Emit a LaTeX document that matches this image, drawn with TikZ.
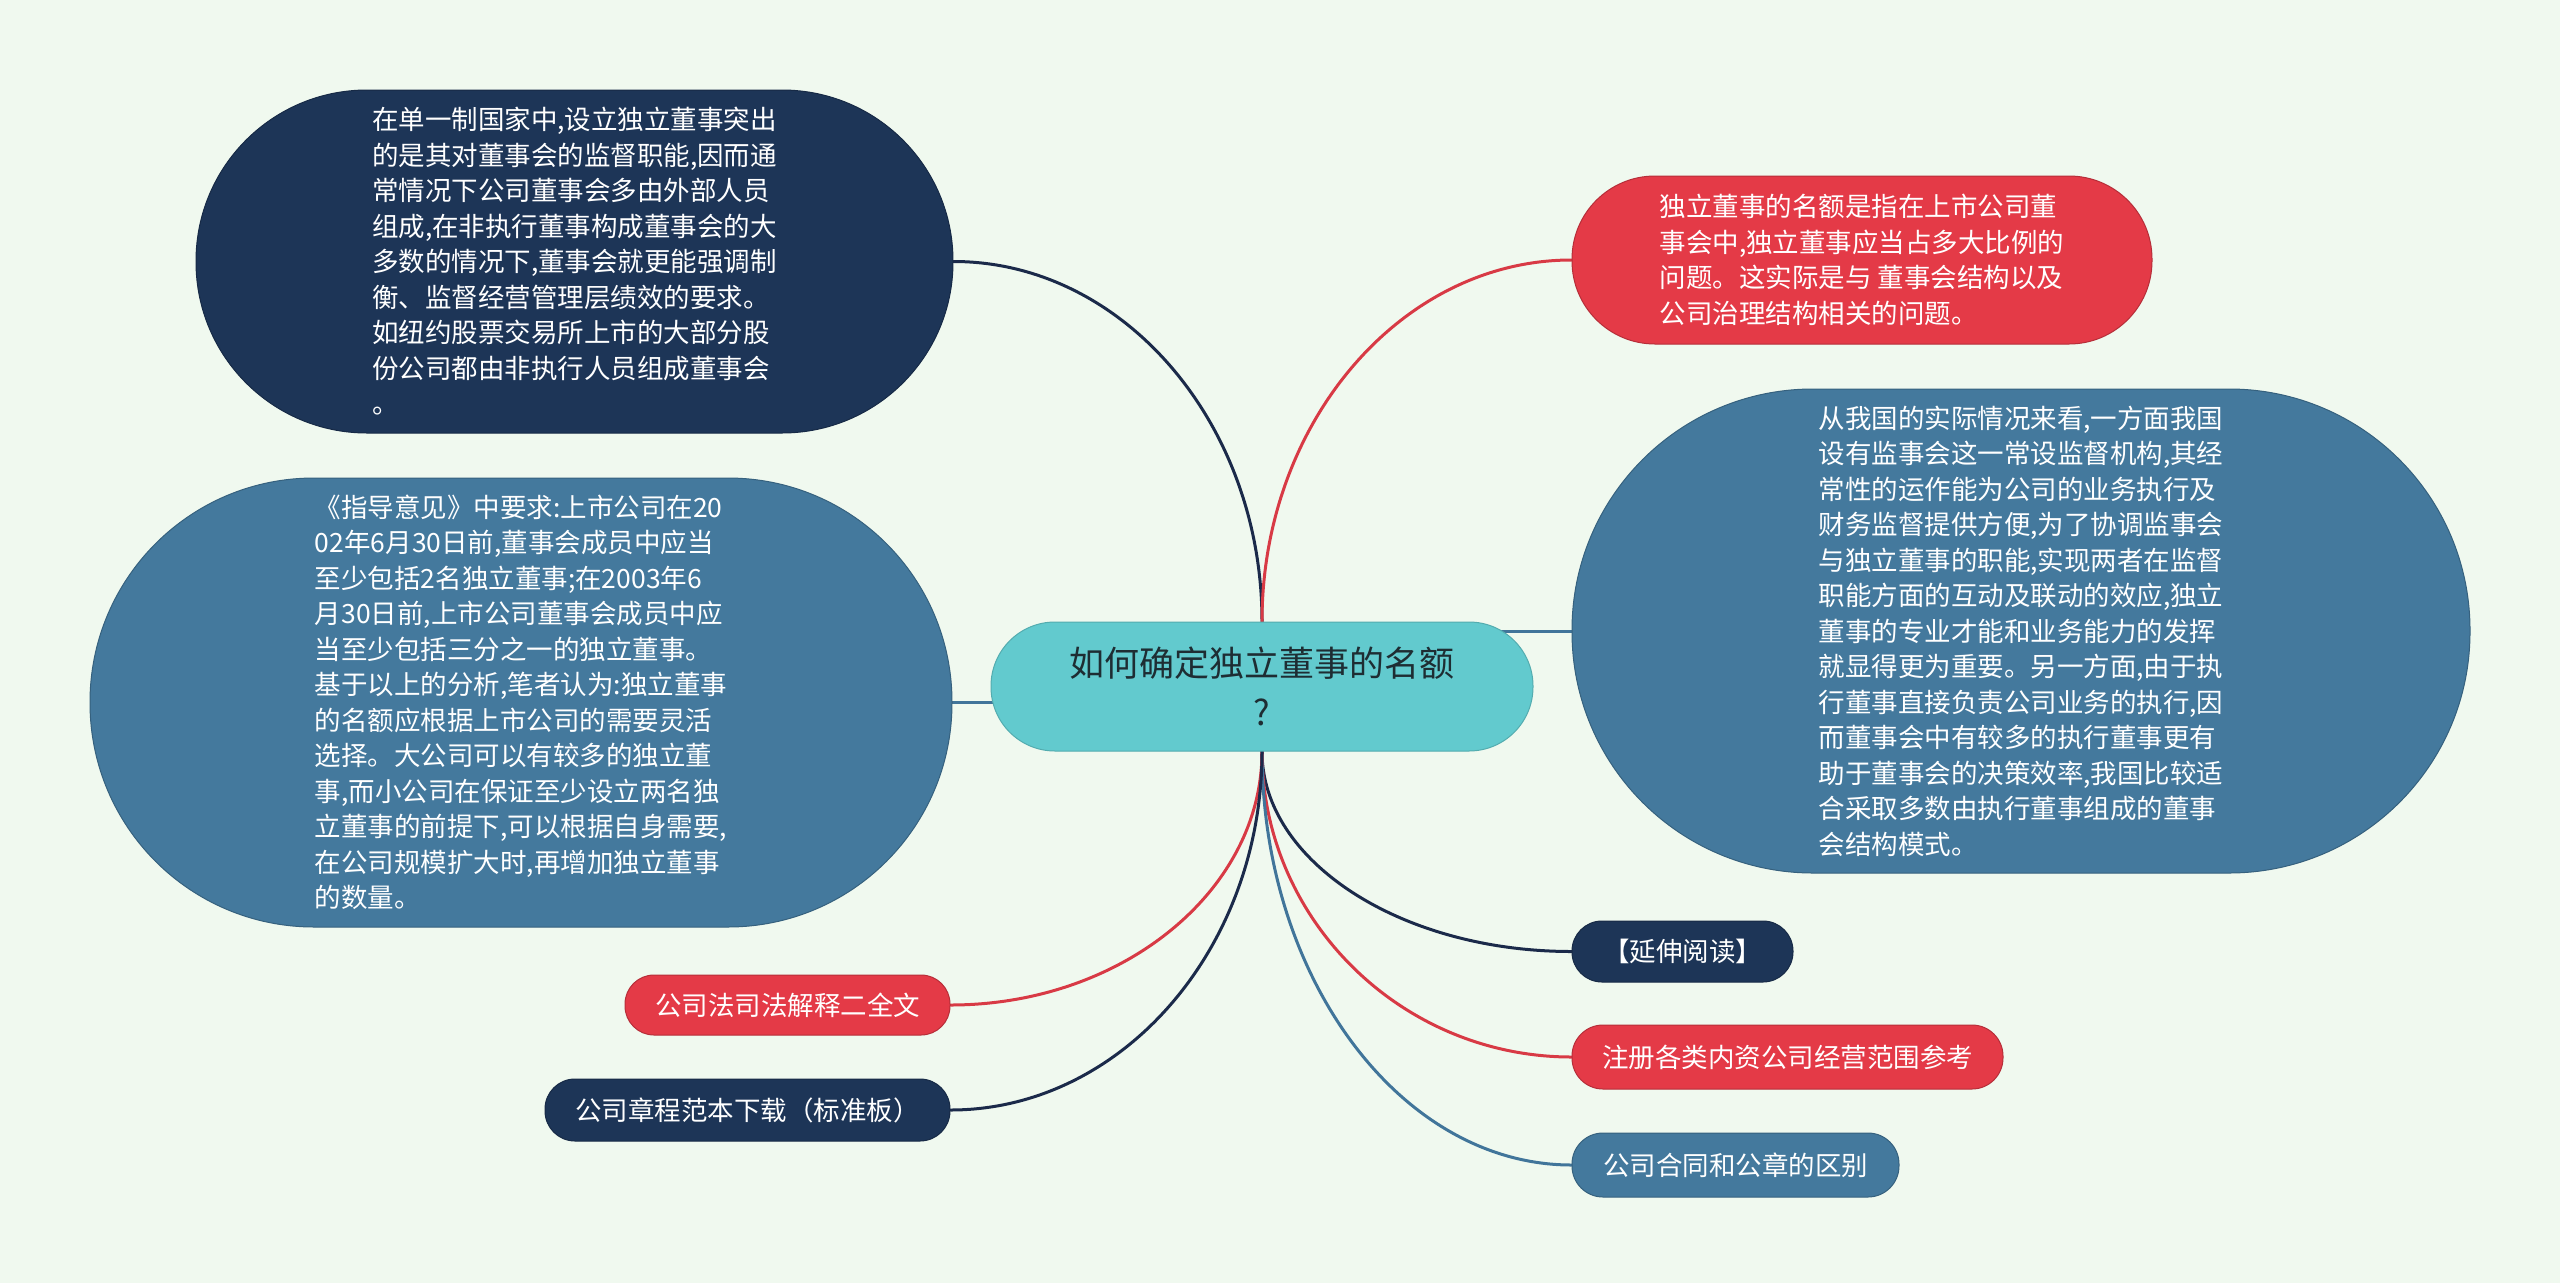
\documentclass[tikz,border=0pt]{standalone}
\usepackage{fontspec}
\newfontfamily\cjk{Noto Sans CJK SC}
\usetikzlibrary{calc,backgrounds}
\definecolor{bgc}{HTML}{F0F9EF}
\definecolor{navy}{HTML}{1D3557}
\definecolor{steel}{HTML}{44799D}
\definecolor{redc}{HTML}{E43A47}
\definecolor{tealc}{HTML}{62CACE}
\definecolor{navyline}{HTML}{1B2A4A}
\definecolor{redline}{HTML}{D83A45}
\definecolor{steelline}{HTML}{41759A}
\definecolor{ctext}{HTML}{1E2D33}
\tikzset{
  box/.style={draw=#1!80!black, fill=#1, line width=1pt, text=white,
    font=\cjk\fontsize{26.5}{35.5}\selectfont, align=left, inner sep=0pt},
  small/.style={box=#1, align=center},
  link/.style={line width=3pt, line cap=round},
  curveto/.style={to path={.. controls ($(\tikztostart)!0.55!(\tikztostart|-\tikztotarget)$)
      and ($(\tikztotarget)!0.55!(\tikztotarget-|\tikztostart)$) .. (\tikztotarget)}},
}
\begin{document}
\begin{tikzpicture}[x=1pt,y=-1pt]
\useasboundingbox (0,0) rectangle (2560,1283);

\node[box=navy, minimum width=757pt, minimum height=343pt, rounded corners=171pt] (tl) at (574.5,261.5)
{在单一制国家中,设立独立董事突出\\的是其对董事会的监督职能,因而通\\常情况下公司董事会多由外部人员\\组成,在非执行董事构成董事会的大\\多数的情况下,董事会就更能强调制\\衡、监督经营管理层绩效的要求。\\如纽约股票交易所上市的大部分股\\份公司都由非执行人员组成董事会\\。};

\node[box=steel, minimum width=862pt, minimum height=449pt, rounded corners=224pt] (lm) at (521,702.5)
{《指导意见》中要求:上市公司在20\\02年6月30日前,董事会成员中应当\\至少包括2名独立董事;在2003年6\\月30日前,上市公司董事会成员中应\\当至少包括三分之一的独立董事。\\基于以上的分析,笔者认为:独立董事\\的名额应根据上市公司的需要灵活\\选择。大公司可以有较多的独立董\\事,而小公司在保证至少设立两名独\\立董事的前提下,可以根据自身需要,\\在公司规模扩大时,再增加独立董事\\的数量。};

\node[box=redc, minimum width=580pt, minimum height=168pt, rounded corners=83pt] (tr) at (1862,260)
{独立董事的名额是指在上市公司董\\事会中,独立董事应当占多大比例的\\问题。这实际是与 董事会结构以及\\公司治理结构相关的问题。};

\node[box=steel, minimum width=898pt, minimum height=484pt, rounded corners=241pt] (rb) at (2021,631)
{从我国的实际情况来看,一方面我国\\设有监事会这一常设监督机构,其经\\常性的运作能为公司的业务执行及\\财务监督提供方便,为了协调监事会\\与独立董事的职能,实现两者在监督\\职能方面的互动及联动的效应,独立\\董事的专业才能和业务能力的发挥\\就显得更为重要。另一方面,由于执\\行董事直接负责公司业务的执行,因\\而董事会中有较多的执行董事更有\\助于董事会的决策效率,我国比较适\\合采取多数由执行董事组成的董事\\会结构模式。};

\node[fill=tealc, draw=tealc!85!black, line width=1pt, text=ctext, minimum width=542pt, minimum height=129pt,
  rounded corners=64pt, inner sep=0pt, align=center, font=\cjk\fontsize{35}{49}\selectfont] (c) at (1262,686.5)
{如何确定独立董事的名额\\?};

\node[small=navy, minimum width=221pt, minimum height=61pt, rounded corners=30pt] (r1) at (1682.5,951.5) {【延伸阅读】};
\node[small=redc, minimum width=431pt, minimum height=64pt, rounded corners=31pt] (r2) at (1787.5,1057) {注册各类内资公司经营范围参考};
\node[small=steel, minimum width=327pt, minimum height=64pt, rounded corners=31pt] (r3) at (1735.5,1165) {公司合同和公章的区别};
\node[small=redc, minimum width=325pt, minimum height=60pt, rounded corners=29pt] (l1) at (787.5,1005) {公司法司法解释二全文};
\node[small=navy, minimum width=405pt, minimum height=62pt, rounded corners=30pt] (l2) at (747.5,1110) {公司章程范本下载（标准板）};

\begin{scope}[on background layer]
\fill[bgc] (0,0) rectangle (2560,1283);
\draw[link, navyline] (c.north) to[curveto] (tl.east);
\draw[link, redline] (c.north) to[curveto] (tr.west);
\draw[link, steelline] (lm.east) -- (lm.east -| c.center);
\draw[link, steelline] (rb.west) -- (rb.west -| c.center);
\draw[link, navyline] (c.south) to[curveto] (r1.west);
\draw[link, redline] (c.south) to[curveto] (r2.west);
\draw[link, steelline] (c.south) to[curveto] (r3.west);
\draw[link, redline] (c.south) to[curveto] (l1.east);
\draw[link, navyline] (c.south) to[curveto] (l2.east);
\end{scope}
\end{tikzpicture}
\end{document}
